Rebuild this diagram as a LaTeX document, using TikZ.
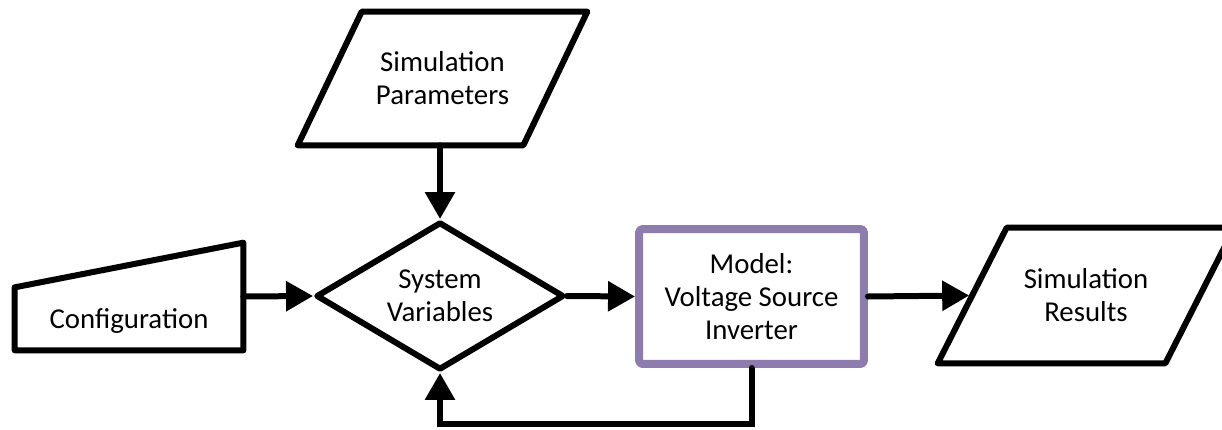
\documentclass[tikz,border=0pt]{standalone}
\usepackage{fontspec}
\setmainfont{Carlito}
\usetikzlibrary{shapes.geometric}
\usepgflibrary{arrows.meta}
\definecolor{modelpurple}{RGB}{143,124,175}

\begin{document}
\begin{tikzpicture}[x=0.02cm,y=-0.02cm,
  font=\fontsize{16.4}{18.8}\selectfont,
  box/.style={draw,line width=0.12cm,line join=round,align=center,inner sep=0pt},
  io/.style={align=center,inner sep=0pt,minimum width=#1},
  outline/.style={line width=0.12cm,line join=round},
  flow/.style={line width=0.12cm,line cap=round,-{Triangle[length=0.54cm,width=0.58cm]}}]

\useasboundingbox (0,0) rectangle (1222,429);
\clip (0,0) rectangle (1222,429);

\node [minimum width=4.56cm,minimum height=2.14cm,inner sep=0pt] (conf) at (129,296.5) {};
\draw [outline] (conf.south west) -- (conf.south east)
  -- (conf.north east) -- ([yshift=1.26cm]conf.south west) -- cycle;
\node at (129,321) {Configuration};

\node [io=4.5cm,minimum height=2.66cm] (par) at (442.5,78.5) {Simulation\\Parameters};
\draw [outline] ([xshift=-0.64cm]par.south west) -- ([xshift=0.64cm]par.north west)
  -- ([xshift=0.64cm]par.north east) -- ([xshift=-0.64cm]par.south east) -- cycle;

\node [box,diamond,aspect=1.68,minimum width=4.96cm,minimum height=2.96cm] (sys) at (440,296) {System\\Variables};
\node [box,draw=modelpurple,line width=0.16cm,rounded corners=2pt,minimum width=4.5cm,minimum height=2.7cm] (vsi) at (751.5,296.5) {Model:\\Voltage Source\\Inverter};

\node [io=4.54cm,minimum height=2.7cm] (res) at (1086,295.5) {Simulation\\Results};
\draw [outline] ([xshift=-0.69cm]res.south west) -- ([xshift=0.69cm]res.north west)
  -- ([xshift=0.69cm]res.north east) -- ([xshift=-0.69cm]res.south east) -- cycle;

\coordinate (loop) at (440,424);

\draw [flow] (conf.east) -- (sys.west);
\draw [flow] (sys.north |- par.south) -- (sys.north);
\draw [flow] (sys.east) -- (vsi.west);
\draw [flow] (vsi.east) -- ([xshift=-0.06cm]res.west);
\draw [flow] (vsi.south) |- (loop) -- (sys.south);
\end{tikzpicture}
\end{document}
